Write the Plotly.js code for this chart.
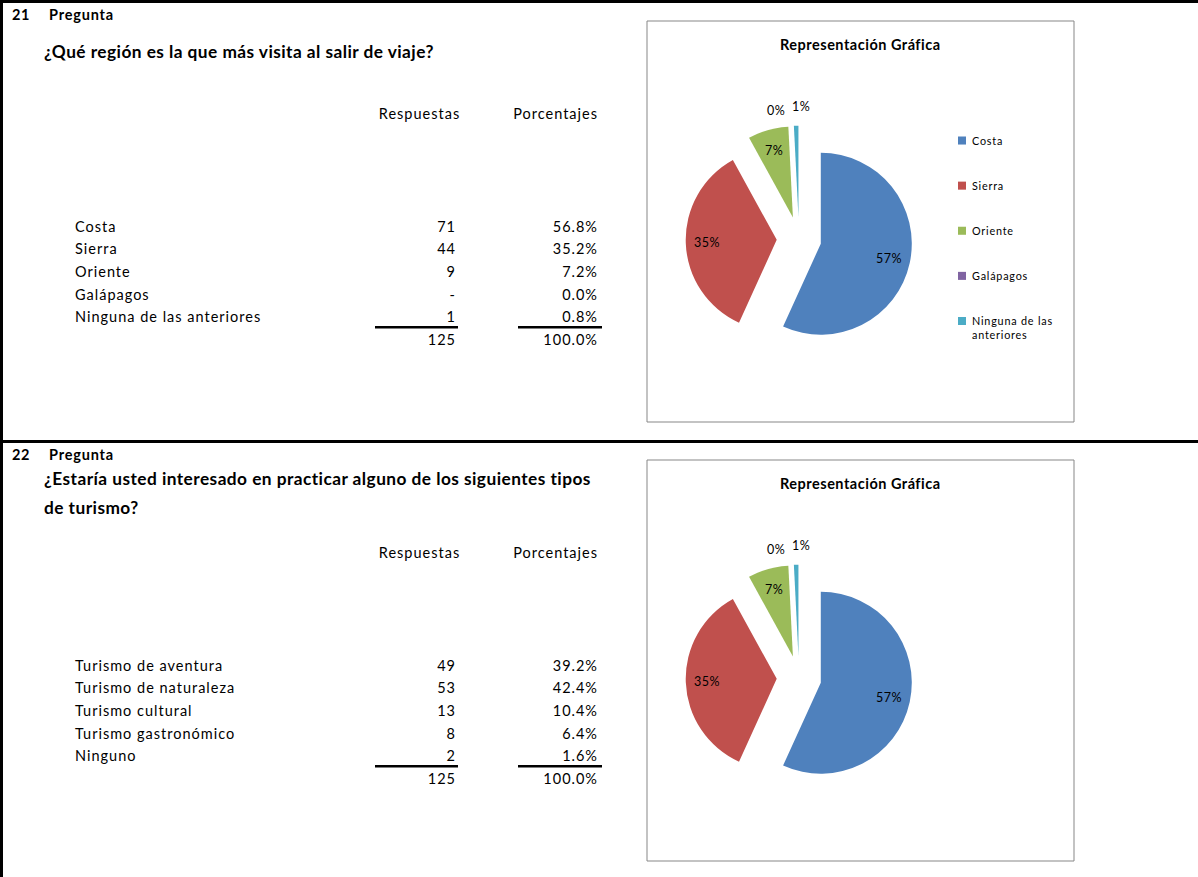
<!DOCTYPE html>
<html><head><meta charset="utf-8">
<script src="https://cdn.plot.ly/plotly-3.0.1.min.js"></script>
<style>
html,body{margin:0;padding:0;background:#fff;}
#chart{width:1198px;height:877px;}
.cell-text{letter-spacing:1px;}
.legendtext{letter-spacing:0.8px;}
.legendpie{transform:translate(30px,0px) scale(0.67);}
</style></head><body><div id="chart"></div><script>
// ---------- data ----------
const q21Categories = ['Costa','Sierra','Oriente','Galápagos','Ninguna de las anteriores'];
const q21Counts = [71,44,9,0,1];
const q21Percent = [56.8,35.2,7.2,0.0,0.8];
const q22Categories = ['Turismo de aventura','Turismo de naturaleza','Turismo cultural','Turismo gastronómico','Ninguno'];
const q22Counts = [49,53,13,8,2];
const q22Percent = [39.2,42.4,10.4,6.4,1.6];
// both pies in the reference show the regional (question 21) data
const pieLabels = q21Categories;
const pie1Values = q21Counts;
const pie2Values = q21Counts;
const headers = ['', 'Respuestas', 'Porcentajes'];

// ---------- helpers ----------
const W = 1198, H = 877;
const FONT = 'Lato, Carlito, Calibri, sans-serif';
const px = x => x / W;
const py = y => 1 - y / H;
const colors = ['#4F81BD','#C0504D','#9BBB59','#8064A2','#4BACC6'];
const legendLabels = pieLabels.map(l => l === 'Ninguna de las anteriores' ? 'Ninguna de las<br>anteriores' : l + '<br> <br> ');
const PIE_CX = 799, PIE_CY = 239, PIE_R = 91, PULL = 0.245;
const sp = (t, s) => '<span style="letter-spacing:' + s + 'px">' + t + '</span>';

function pieTrace(values, dy, legendId) {
  const half = PIE_R * (1 + PULL), cy = PIE_CY + dy;
  return {
    type: 'pie', labels: legendLabels, values: values, sort: false,
    direction: 'clockwise', rotation: 0, pull: PULL,
    marker: {colors: colors, line: {width: 0}},
    textinfo: 'none',
    domain: {x: [px(PIE_CX - half), px(PIE_CX + half)], y: [py(cy + half), py(cy - half)]},
    legend: legendId, hoverinfo: 'none', showlegend: true
  };
}

// percentage labels placed along each slice's mid angle (Excel style)
function pieLabels_(values, dy) {
  const total = values.reduce((a, b) => a + b, 0);
  let cum = 0;
  const out = [];
  values.forEach((v, i) => {
    const frac = v / total;
    const mid = (cum + frac / 2) * 2 * Math.PI;
    cum += frac;
    const inside = frac > 0.02;
    const dist = inside ? (PULL + 0.77) * PIE_R : 1.44 * PIE_R;
    const x = PIE_CX + dist * Math.sin(mid), y = PIE_CY + dy - dist * Math.cos(mid);
    const a = {text: sp(Math.round(frac * 100) + '%', 0.5), x: px(x), y: py(y), xref: 'paper', yref: 'paper',
      xanchor: 'center', yanchor: 'middle', showarrow: false,
      font: {family: FONT, size: 12.5, color: '#000'}};
    if (!inside) {
      if (v === 0) { a.xanchor = 'right'; a.xshift = -5; a.yshift = -2; }
      else { a.xanchor = 'left'; a.xshift = -6; a.yshift = 2; }
    }
    out.push(a);
  });
  return out;
}

function tableTrace(cats, counts, pcts, dy) {
  const total = counts.reduce((a, b) => a + b, 0);
  const totalPct = pcts.reduce((a, b) => a + b, 0);
  const c1 = cats.concat(['']);
  const c2 = counts.map(v => v === 0 ? '-' : String(v)).concat([String(total)]);
  const c3 = pcts.map(v => v.toFixed(1) + '%').concat([totalPct.toFixed(1) + '%']);
  const top = 100 + dy;
  return {
    type: 'table',
    domain: {x: [px(67), px(606)], y: [py(top + 270), py(top)]},
    columnwidth: [308, 89, 142],
    header: {values: headers, align: ['left','center','right'], height: 113,
      font: {family: FONT, size: 14.5, color: '#000'},
      fill: {color: 'rgba(0,0,0,0)'}, line: {width: 0, color: 'rgba(0,0,0,0)'}},
    cells: {values: [c1, c2, c3], align: ['left','right','right'], height: 22.6,
      font: {family: FONT, size: 14.5, color: '#000'},
      fill: {color: 'rgba(0,0,0,0)'}, line: {width: 0, color: 'rgba(0,0,0,0)'}}
  };
}

function ann(text, x, y, size, spacing, opts) {
  return Object.assign({text: sp(text, spacing), x: px(x), y: py(y), xref: 'paper', yref: 'paper',
    xanchor: 'left', yanchor: 'middle', showarrow: false,
    font: {family: FONT, size: size, color: '#000', weight: 'bold'}}, opts || {});
}

const DY = 439;
const data = [
  tableTrace(q21Categories, q21Counts, q21Percent, 0),
  tableTrace(q22Categories, q22Counts, q22Percent, DY),
  pieTrace(pie1Values, 0, 'legend'),
  pieTrace(pie2Values, DY, 'legend2')
];

const shapes = [];
const black = {color: '#000', width: 0};
function rect(x0, y0, x1, y1, fill, line) {
  shapes.push({type: 'rect', xref: 'paper', yref: 'paper', x0: px(x0), x1: px(x1), y0: py(y1), y1: py(y0),
    fillcolor: fill, line: line, layer: 'above'});
}
rect(0, 0, W, 3, '#000', black);
rect(0, 0, 3, H, '#000', black);
rect(0, 440, W, 443, '#000', black);
rect(647, 21, 1074, 422, 'rgba(0,0,0,0)', {color: '#878787', width: 1});
rect(647, 460, 1074, 861, 'rgba(0,0,0,0)', {color: '#878787', width: 1});
[0, DY].forEach(dy => {
  rect(375, 326 + dy, 458, 328.5 + dy, '#000', black);
  rect(518, 326 + dy, 602, 328.5 + dy, '#000', black);
});

const annotations = [
  ann('21', 10, 15, 14.5, 0.5), ann('Pregunta', 47, 15, 14.5, 0.8),
  ann('¿Qué región es la que más visita al salir de viaje?', 42, 52, 17.3, 0.45),
  ann('22', 10, 454, 14.5, 0.5), ann('Pregunta', 47, 454, 14.5, 0.8),
  ann('¿Estaría usted interesado en practicar alguno de los siguientes tipos', 42, 479, 17.3, 0.45),
  ann('de turismo?', 42, 507, 17.3, 0.45),
  ann('Representación Gráfica', 860, 45, 14.5, 0.5, {xanchor: 'center'}),
  ann('Representación Gráfica', 860, 45 + DY, 14.5, 0.5, {xanchor: 'center'})
].concat(pieLabels_(pie1Values, 0), pieLabels_(pie2Values, DY));

function legendCfg(dy) {
  return {x: px(932), xanchor: 'left', y: py(127 + dy), yanchor: 'top', valign: 'top',
    font: {family: FONT, size: 10.8, color: '#000'}, bgcolor: 'rgba(0,0,0,0)', borderwidth: 0};
}

const layout = {
  width: W, height: H, margin: {l: 0, r: 0, t: 0, b: 0},
  paper_bgcolor: '#fff', plot_bgcolor: '#fff', showlegend: true,
  legend: legendCfg(0), legend2: legendCfg(DY),
  shapes: shapes, annotations: annotations, hovermode: false
};

Plotly.newPlot('chart', data, layout, {staticPlot: true, displayModeBar: false});
</script></body></html>
